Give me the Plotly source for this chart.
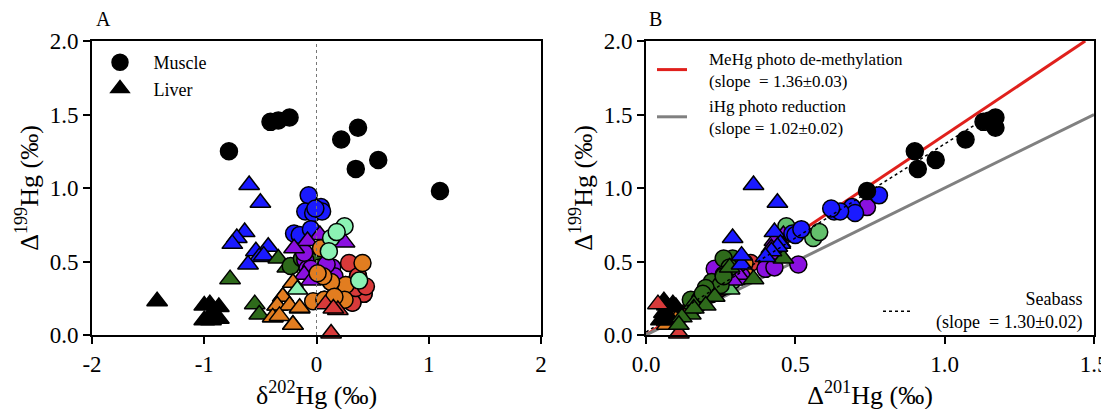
import plotly.graph_objects as go

# ---------------- data ----------------
# each group: d202 (panel A x), D199 (both panels y), D201 (panel B x)
black_m_d202 = [-0.78, -0.41, -0.34, -0.24, 0.22, 0.37, 0.35, 0.55, 1.10]
black_m_D199 = [1.25, 1.45, 1.46, 1.48, 1.33, 1.41, 1.13, 1.19, 0.98]
black_m_D201 = [0.90, 1.13, 1.15, 1.17, 1.07, 1.17, 0.91, 0.97, 0.74]

black_l_d202 = [-1.42, -1.00, -0.95, -0.87, -1.00, -0.94, -0.87, -0.93]
black_l_D199 = [0.23, 0.20, 0.21, 0.19, 0.10, 0.10, 0.11, 0.15]
black_l_D201 = [0.06, 0.07, 0.09, 0.10, 0.05, 0.07, 0.08, 0.06]

blue_l_d202 = [-0.60, -0.50, -0.64, -0.71, -0.75, -0.43, -0.54, -0.51, -0.61, -0.47]
blue_l_D199 = [1.02, 0.90, 0.70, 0.66, 0.62, 0.60, 0.57, 0.53, 0.48, 0.54]
blue_l_D201 = [0.36, 0.44, 0.43, 0.29, 0.45, 0.44, 0.42, 0.40, 0.32, 0.32]

blue_m_d202 = [-0.07, 0.04, -0.10, -0.03, 0.05, -0.01, -0.20, -0.15, -0.05]
blue_m_D199 = [0.95, 0.87, 0.84, 0.83, 0.84, 0.86, 0.69, 0.68, 0.72]
blue_m_D201 = [0.78, 0.69, 0.63, 0.70, 0.65, 0.62, 0.49, 0.50, 0.52]

purple_m_d202 = [-0.10, -0.08, -0.11, -0.05, 0.14, 0.16, 0.09, -0.02]
purple_m_D199 = [0.51, 0.45, 0.56, 0.45, 0.46, 0.40, 0.48, 0.87]
purple_m_D201 = [0.41, 0.23, 0.43, 0.40, 0.43, 0.32, 0.51, 0.74]

purple_l_d202 = [0.03, 0.25, -0.08, -0.20, -0.11, -0.05]
purple_l_D199 = [0.68, 0.63, 0.64, 0.59, 0.41, 0.37]
purple_l_D201 = [0.46, 0.45, 0.43, 0.42, 0.31, 0.29]

dgreen_m_d202 = [-0.23, -0.13, 0.03, 0.03, 0.13, 0.25, 0.07, 0.26, 0.03, 0.35, 0.32, 0.37, 0.42]
dgreen_m_D199 = [0.47, 0.52, 0.52, 0.46, 0.36, 0.24, 0.24, 0.34, 0.41, 0.32, 0.22, 0.40, 0.28]
dgreen_m_D201 = [0.28, 0.29, 0.26, 0.28, 0.22, 0.15, 0.18, 0.25, 0.26, 0.20, 0.18, 0.26, 0.19]

dgreen_l_d202 = [-0.77, -0.34, -0.55, -0.51, -0.26, -0.30, -0.35, -0.15, -0.39, -0.21]
dgreen_l_D199 = [0.38, 0.52, 0.21, 0.14, 0.46, 0.26, 0.20, 0.18, 0.12, 0.07]
dgreen_l_D201 = [0.36, 0.46, 0.16, 0.15, 0.28, 0.23, 0.20, 0.16, 0.12, 0.11]

lgreen_m_d202 = [0.25, 0.13, 0.18, 0.11, 0.38]
lgreen_m_D199 = [0.74, 0.66, 0.70, 0.57, 0.37]
lgreen_m_D201 = [0.47, 0.56, 0.58, 0.44, 0.29]

lgreen_l_d202 = [-0.17]
lgreen_l_D199 = [0.31]
lgreen_l_D201 = [0.28]

orange_m_d202 = [0.04, 0.41, 0.26, 0.13, -0.03, 0.07, 0.25, 0.06, 0.16, 0.01]
orange_m_D199 = [0.59, 0.49, 0.34, 0.36, 0.23, 0.24, 0.24, 0.40, 0.26, 0.42]
orange_m_D201 = [0.44, 0.33, 0.25, 0.27, 0.17, 0.18, 0.18, 0.31, 0.20, 0.33]

orange_l_d202 = [-0.21, -0.30, -0.35, -0.24, -0.15, -0.39, -0.33, -0.21]
orange_l_D199 = [0.355, 0.26, 0.20, 0.20, 0.185, 0.12, 0.13, 0.07]
orange_l_D201 = [0.27, 0.20, 0.15, 0.16, 0.14, 0.10, 0.11, 0.07]

red_m_d202 = [0.29, 0.37, 0.42, 0.32, 0.35, 0.44]
red_m_D199 = [0.49, 0.40, 0.28, 0.22, 0.32, 0.33]
red_m_D201 = [0.35, 0.30, 0.22, 0.17, 0.25, 0.26]

red_l_d202 = [0.08, 0.19, 0.13, 0.15]
red_l_D199 = [0.21, 0.17, 0.01, 0.18]
red_l_D201 = [0.04, 0.14, 0.11, 0.15]

# regression lines in panel B
PAD = "\u00a0" * 4
line_names = [PAD + "MeHg photo de-methylation<br>" + PAD + "(slope  = 1.36±0.03)",
              PAD + "iHg photo reduction<br>" + PAD + "(slope = 1.02±0.02)",
              "Seabass"]
line_slopes = [1.36, 1.00, 1.28]
line_intercepts = [0.0, 0.0, 0.02]
line_xmax = [2.0 / 1.36, 1.5, 1.17]

# ---------------- styling ----------------
FONT = "Liberation Serif"
W, H, OFF = 1109, 409, 8


def px(x):
    return (x - OFF) / W


def py(y):
    return 1 - (y - OFF) / H


C = {
    "black": ("#000000", "#000000"),
    "blue": ("#1a1aff", "#1a1aff"),
    "purple": ("#8a10e0", "#8a10e0"),
    "dgreen": ("#2e6a1b", "#2e6a1b"),
    "lgreen": ("#8cf2b4", "#63c06c"),
    "orange": ("#e27d20", "#e27d20"),
    "red": ("#d83a3a", "#d83a3a"),
}

groups = {
    "black_m": (black_m_d202, black_m_D199, black_m_D201, "black", "circle"),
    "black_l": (black_l_d202, black_l_D199, black_l_D201, "black", "triangle-up"),
    "blue_l": (blue_l_d202, blue_l_D199, blue_l_D201, "blue", "triangle-up"),
    "blue_m": (blue_m_d202, blue_m_D199, blue_m_D201, "blue", "circle"),
    "purple_m": (purple_m_d202, purple_m_D199, purple_m_D201, "purple", "circle"),
    "purple_l": (purple_l_d202, purple_l_D199, purple_l_D201, "purple", "triangle-up"),
    "dgreen_m": (dgreen_m_d202, dgreen_m_D199, dgreen_m_D201, "dgreen", "circle"),
    "dgreen_l": (dgreen_l_d202, dgreen_l_D199, dgreen_l_D201, "dgreen", "triangle-up"),
    "lgreen_m": (lgreen_m_d202, lgreen_m_D199, lgreen_m_D201, "lgreen", "circle"),
    "lgreen_l": (lgreen_l_d202, lgreen_l_D199, lgreen_l_D201, "lgreen", "triangle-up"),
    "orange_m": (orange_m_d202, orange_m_D199, orange_m_D201, "orange", "circle"),
    "orange_l": (orange_l_d202, orange_l_D199, orange_l_D201, "orange", "triangle-up"),
    "red_m": (red_m_d202, red_m_D199, red_m_D201, "red", "circle"),
    "red_l": (red_l_d202, red_l_D199, red_l_D201, "red", "triangle-up"),
}

order_A = ["black_m", "black_l", "blue_l", "dgreen_l", "dgreen_m", "purple_m", "blue_m",
           "purple_l", "red_m", "orange_m", "orange_l", "lgreen_m", "lgreen_l", "red_l"]
order_B = ["red_m", "orange_m", "orange_l", "lgreen_m", "lgreen_l", "black_l", "red_l",
           "purple_m", "purple_l", "dgreen_m", "dgreen_l", "blue_m", "blue_l", "black_m"]

fig = go.Figure()


def add_group(key, panel):
    d202, d199, d201, col, sym = groups[key]
    fill = C[col][0] if panel == "A" else C[col][1]
    size = 17 if sym == "circle" else 18
    show = False
    name = None
    if panel == "A" and key == "black_m":
        show, name = True, "\u00a0\u00a0\u00a0Muscle"
    if panel == "A" and key == "black_l":
        show, name = True, "\u00a0\u00a0\u00a0Liver"
    fig.add_trace(go.Scatter(
        x=d202 if panel == "A" else d201, y=d199,
        xaxis="x" if panel == "A" else "x2", yaxis="y" if panel == "A" else "y2",
        mode="markers", cliponaxis=False, name=name, showlegend=show,
        marker=dict(symbol=sym, size=size, color=fill, line=dict(color="black", width=1.5)),
    ))


for k in order_A:
    add_group(k, "A")

# lines in B
line_styles = [dict(color="#e0201c", width=3), dict(color="#808080", width=3),
               dict(color="black", width=1.5, dash="3px,3px")]
for i in [0, 1]:
    fig.add_trace(go.Scatter(
        x=[0, line_xmax[i]],
        y=[line_intercepts[i], line_intercepts[i] + line_slopes[i] * line_xmax[i]],
        xaxis="x2", yaxis="y2", mode="lines", line=line_styles[i],
        name=line_names[i], legend="legend2", showlegend=True))

for k in order_B:
    add_group(k, "B")

fig.add_trace(go.Scatter(
    x=[0, line_xmax[2]],
    y=[line_intercepts[2], line_intercepts[2] + line_slopes[2] * line_xmax[2]],
    xaxis="x2", yaxis="y2", mode="lines", line=line_styles[2],
    name=" ", legend="legend3", showlegend=True))

axis_common = dict(showline=True, linewidth=2, linecolor="black", mirror=True,
                   ticks="outside", ticklen=7, tickwidth=2, tickcolor="black",
                   showgrid=False, zeroline=False, automargin=False,
                   tickfont=dict(family=FONT, size=23, color="black"))
title_font = dict(family=FONT, size=26, color="black")

xa = [px(92), px(541)]
xb = [px(646), px(1094)]
yd = [py(335), py(41)]

fig.update_layout(
    width=W, height=H,
    margin=dict(l=0, r=0, t=0, b=0, autoexpand=False),
    paper_bgcolor="white", plot_bgcolor="white",
    font=dict(family=FONT, color="black"),
    xaxis=dict(axis_common, domain=xa, range=[-2, 2], tickvals=[-2, -1, 0, 1, 2],
               ticktext=["-2", "-1", "0", "1", "2"],
               anchor="y", title=dict(text="δ<sup>202</sup>Hg (‰)", font=title_font, standoff=4)),
    yaxis=dict(axis_common, domain=yd, range=[0, 2], tickvals=[0, 0.5, 1, 1.5, 2], tickformat=".1f",
               anchor="x", title=dict(text="Δ<sup>199</sup>Hg (‰)", font=title_font, standoff=4)),
    xaxis2=dict(axis_common, domain=xb, range=[0, 1.5], tickvals=[0, 0.5, 1, 1.5], tickformat=".1f",
                anchor="y2", title=dict(text="Δ<sup>201</sup>Hg (‰)", font=title_font, standoff=4)),
    yaxis2=dict(axis_common, domain=yd, range=[0, 2], tickvals=[0, 0.5, 1, 1.5, 2], tickformat=".1f",
                anchor="x2", title=dict(text="Δ<sup>199</sup>Hg (‰)", font=title_font, standoff=4)),
    legend=dict(x=px(100), y=py(44), xanchor="left", yanchor="top",
                bgcolor="rgba(0,0,0,0)", font=dict(family=FONT, size=18, color="black"),
                tracegroupgap=0),
    legend2=dict(x=px(652), y=py(41), xanchor="left", yanchor="top",
                 bgcolor="rgba(0,0,0,0)", font=dict(family=FONT, size=17, color="black"),
                 tracegroupgap=0),
    legend3=dict(x=px(878), y=py(293), xanchor="left", yanchor="top",
                 bgcolor="rgba(0,0,0,0)", font=dict(family=FONT, size=18, color="black")),
    shapes=[dict(type="line", xref="x", yref="y", x0=0, x1=0, y0=0, y1=2,
                 line=dict(color="#777777", width=1, dash="dot"))],
    annotations=[
        dict(text="A", x=px(103), y=py(19), xref="paper", yref="paper",
             xanchor="center", yanchor="middle",
             showarrow=False, font=dict(family=FONT, size=20, color="black")),
        dict(text="B", x=px(655), y=py(19), xref="paper", yref="paper",
             xanchor="center", yanchor="middle",
             showarrow=False, font=dict(family=FONT, size=20, color="black")),
        dict(text="Seabass<br>(slope  = 1.30±0.02)", x=px(1085), y=py(311),
             xref="paper", yref="paper", xanchor="right", yanchor="middle", align="right",
             showarrow=False, font=dict(family=FONT, size=18, color="black")),
    ],
)

fig.write_html("out.html")
